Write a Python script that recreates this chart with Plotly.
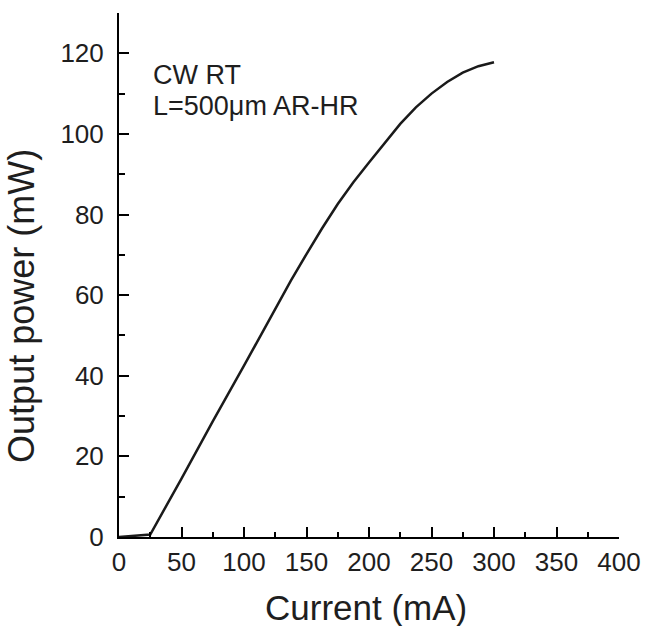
import plotly.graph_objects as go

current_mA = [0, 10, 25, 50, 75, 100, 125, 137.5, 150, 162.5, 175, 187.5, 200,
              212.5, 225, 237.5, 250, 262.5, 275, 287.5, 300]
power_mW = [0, 0.2, 0.6, 14.5, 28.7, 42.5, 56.6, 63.6, 70.2, 76.6, 82.6, 88.0, 92.9,
            97.8, 102.5, 106.6, 110.0, 112.9, 115.2, 116.8, 117.8]

x_ticks = [0, 50, 100, 150, 200, 250, 300, 350, 400]
y_ticks = [0, 20, 40, 60, 80, 100, 120]
note_lines = ["CW RT", "L=500\u03bcm AR-HR"]

FONT = "Arial, Liberation Sans, sans-serif"
TXT = "#1e1e1e"

fig = go.Figure()
fig.add_trace(go.Scatter(x=current_mA, y=power_mW, mode="lines",
                         line=dict(color="#1a1a1a", width=2.5), showlegend=False))

axis_common = dict(showline=True, linecolor="black", linewidth=2, showgrid=False,
                   zeroline=False, ticks="inside", tickcolor="black", tickwidth=2,
                   ticklen=10, tickfont=dict(family=FONT, size=26, color=TXT),
                   mirror=False, automargin=False)

fig.update_xaxes(range=[0, 400], tickvals=x_ticks, ticktext=[str(v) for v in x_ticks],
                 ticklabelstandoff=1,
                 minor=dict(ticks="inside", tickvals=[25, 75, 125, 175, 225, 275, 325, 375],
                            ticklen=5, tickwidth=2, tickcolor="black"),
                 **axis_common)
fig.update_yaxes(range=[0, 130], tickvals=y_ticks, ticktext=[str(v) for v in y_ticks],
                 ticklabelstandoff=8,
                 minor=dict(ticks="inside", tickvals=[10, 30, 50, 70, 90, 110],
                            ticklen=6, tickwidth=2, tickcolor="black"),
                 **axis_common)

fig.add_annotation(text="Current (mA)", xref="paper", yref="paper", x=0.494, y=-0.135,
                   xanchor="center", yanchor="middle", showarrow=False, borderpad=0,
                   font=dict(family=FONT, size=35, color=TXT))
fig.add_annotation(text="Output power (mW)", xref="paper", yref="paper", x=-0.194, y=0.441,
                   xanchor="center", yanchor="middle", textangle=-90, showarrow=False,
                   font=dict(family=FONT, size=36, color=TXT))
fig.add_annotation(text=note_lines[0], x=25.2, y=114.5, xanchor="left", yanchor="middle",
                   showarrow=False, font=dict(family=FONT, size=27, color=TXT))
fig.add_annotation(text=note_lines[1], x=25.2, y=106.9, xanchor="left", yanchor="middle",
                   showarrow=False, font=dict(family=FONT, size=27, color=TXT))

fig.update_layout(width=645, height=626, margin=dict(l=119, r=26, t=13, b=89, autoexpand=False),
                  paper_bgcolor="white", plot_bgcolor="white")

fig.write_html("out.html", config={"displayModeBar": False},
               post_script="document.body.style.margin='0';"
                           "document.documentElement.style.overflow='hidden';"
                           "document.body.style.overflow='hidden';")
